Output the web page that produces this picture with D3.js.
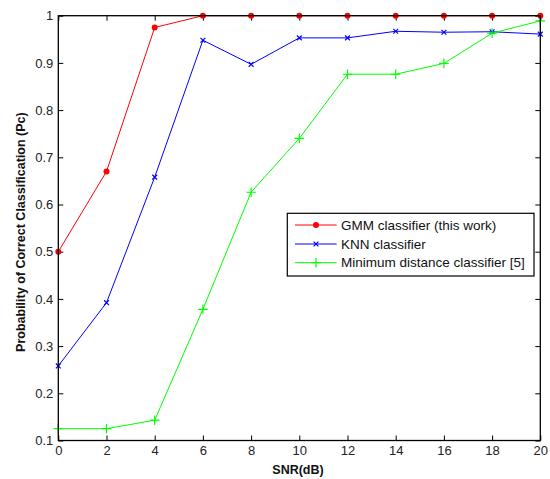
<!DOCTYPE html>
<html>
<head>
<meta charset="utf-8">
<script src="https://cdn.jsdelivr.net/npm/d3@7"></script>
<style>
  html, body { margin: 0; padding: 0; background: #fff; }
  svg { display: block; }
  text { font-family: "Liberation Sans", Arial, sans-serif; }
</style>
</head>
<body>
<svg id="chart" width="550" height="479"></svg>
<script>
// SNR values (dB) on the x axis
const snr = [0, 2, 4, 6, 8, 10, 12, 14, 16, 18, 20];

// Probability of correct classification for each classifier
const gmm = [0.5, 0.67, 0.975, 1, 1, 1, 1, 1, 1, 1, 1];
const knn = [0.258, 0.392, 0.658, 0.948, 0.897, 0.953, 0.953, 0.967, 0.965, 0.966, 0.961];
const minDist = [0.125, 0.125, 0.143, 0.378, 0.626, 0.74, 0.876, 0.876, 0.899, 0.963, 0.989];

const seriesNames = ["GMM classifier (this work)", "KNN classifier", "Minimum distance classifier [5]"];
const xTicks = [0, 2, 4, 6, 8, 10, 12, 14, 16, 18, 20];
const yTicks = [0.1, 0.2, 0.3, 0.4, 0.5, 0.6, 0.7, 0.8, 0.9, 1];

const svg = d3.select("#chart");
const plotL = 58.3, plotR = 540.3, plotT = 15.7, plotB = 440.5;

const x = d3.scaleLinear().domain([0, 20]).range([plotL, plotR]);
const y = d3.scaleLinear().domain([0.1, 1]).range([plotB, plotT]);

const series = [
  { name: seriesNames[0], values: gmm, color: "#ff0000", marker: "dot" },
  { name: seriesNames[1], values: knn, color: "#0000ff", marker: "x" },
  { name: seriesNames[2], values: minDist, color: "#00ff00", marker: "plus" }
];

// Axes on all four sides, ticks pointing inward
const tickLen = 5;
const fmtY = d => (d === 1 ? "1" : d3.format(".1f")(d));

const gBottom = svg.append("g").attr("transform", `translate(0,${plotB})`)
  .call(d3.axisBottom(x).tickValues(xTicks).tickSize(-tickLen).tickPadding(5).tickFormat(d3.format("d")));
const gTop = svg.append("g").attr("transform", `translate(0,${plotT})`)
  .call(d3.axisTop(x).tickValues(xTicks).tickSize(-tickLen).tickFormat(""));
const gLeft = svg.append("g").attr("transform", `translate(${plotL},0)`)
  .call(d3.axisLeft(y).tickValues(yTicks).tickSize(-tickLen).tickPadding(5).tickFormat(fmtY));
const gRight = svg.append("g").attr("transform", `translate(${plotR},0)`)
  .call(d3.axisRight(y).tickValues(yTicks).tickSize(-tickLen).tickFormat(""));

[gBottom, gTop, gLeft, gRight].forEach(g => {
  g.select(".domain").remove();
  g.selectAll(".tick line").attr("stroke", "#000").attr("stroke-width", 1);
  g.selectAll(".tick text")
    .attr("fill", "#222")
    .style("font-size", "13px")
    .style("font-family", "'Liberation Sans', Arial, sans-serif");
});

// Series lines and markers
const line = d3.line().x((d, i) => x(snr[i])).y(d => y(d));

series.forEach(s => {
  svg.append("path")
    .datum(s.values)
    .attr("fill", "none")
    .attr("stroke", s.color)
    .attr("stroke-width", 1)
    .attr("d", line);
});

function drawMarker(g, type, cx, cy, color) {
  if (type === "dot") {
    g.append("circle").attr("cx", cx).attr("cy", cy).attr("r", 3).attr("fill", color);
  } else if (type === "x") {
    const r = 2.4;
    g.append("path")
      .attr("d", `M${cx - r},${cy - r}L${cx + r},${cy + r}M${cx - r},${cy + r}L${cx + r},${cy - r}`)
      .attr("stroke", color).attr("stroke-width", 1.2).attr("fill", "none");
  } else {
    const r = 4.8;
    g.append("path")
      .attr("d", `M${cx - r},${cy}L${cx + r},${cy}M${cx},${cy - r}L${cx},${cy + r}`)
      .attr("stroke", color).attr("stroke-width", 1.2).attr("fill", "none");
  }
}

series.forEach(s => {
  const g = svg.append("g");
  s.values.forEach((v, i) => drawMarker(g, s.marker, x(snr[i]), y(v), s.color));
});

// Plot box
svg.append("rect")
  .attr("x", plotL).attr("y", plotT)
  .attr("width", plotR - plotL).attr("height", plotB - plotT)
  .attr("fill", "none").attr("stroke", "#000").attr("stroke-width", 1.3);

// Axis titles
svg.append("text")
  .attr("x", 298).attr("y", 474)
  .attr("text-anchor", "middle")
  .style("font-size", "12.5px").style("font-weight", "bold")
  .attr("fill", "#111")
  .text("SNR(dB)");

svg.append("text")
  .attr("transform", `translate(24.5,${(plotT + plotB) / 2 + 4}) rotate(-90)`)
  .attr("text-anchor", "middle")
  .style("font-size", "12.5px").style("font-weight", "bold")
  .attr("fill", "#111")
  .text("Probability of Correct Classification (Pc)");

// Legend
const lg = svg.append("g");
const lx = 287.3, ly = 213.3, lw = 246.7, lh = 62.7;
lg.append("rect")
  .attr("x", lx).attr("y", ly).attr("width", lw).attr("height", lh)
  .attr("fill", "#fff").attr("stroke", "#000").attr("stroke-width", 1.2);
const rowY = [225, 244, 262.7];
series.forEach((s, i) => {
  lg.append("line")
    .attr("x1", 295).attr("x2", 336.7)
    .attr("y1", rowY[i]).attr("y2", rowY[i])
    .attr("stroke", s.color).attr("stroke-width", 1);
  drawMarker(lg, s.marker, 316, rowY[i], s.color);
  lg.append("text")
    .attr("x", 341).attr("y", rowY[i] + 4.7)
    .style("font-size", "13.5px")
    .attr("fill", "#111")
    .text(s.name);
});
</script>
</body>
</html>
